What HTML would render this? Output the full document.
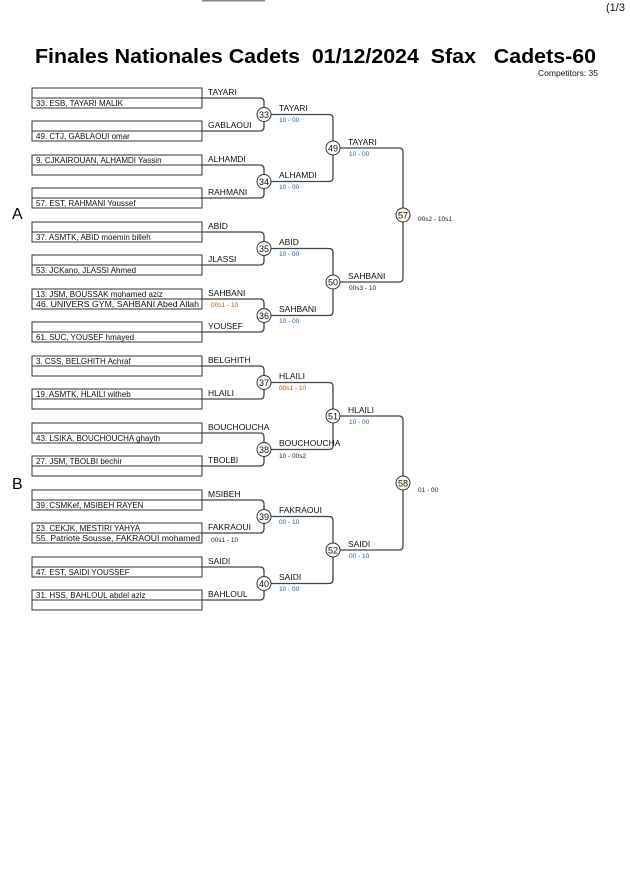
<!DOCTYPE html>
<html><head><meta charset="utf-8"><style>
body{margin:0;background:#fff;}
svg{display:block;font-family:"Liberation Sans",sans-serif;}
.n{font-size:8px;fill:#111;}
.l{font-size:8.5px;fill:#111;}
.s{font-size:6.5px;}
.b{fill:#1f5fa8}.o{fill:#b35a00}.d{fill:#222}
.c{fill:#fff;stroke:#333;stroke-width:1}
.ct{font-size:9px;fill:#111;text-anchor:middle}
</style></head><body>
<svg width="630" height="891" viewBox="0 0 630 891">
<rect x="202" y="0" width="63" height="1.5" fill="#888"/>
<text x="606" y="11" font-size="11" fill="#111">(1/3</text>
<text x="35" y="63" font-size="20" font-weight="bold" fill="#000" xml:space="preserve" textLength="561" lengthAdjust="spacingAndGlyphs">Finales Nationales Cadets &#160;01/12/2024 &#160;Sfax &#160; Cadets-60</text>
<text x="598" y="76" font-size="8.5" text-anchor="end" fill="#111">Competitors: 35</text>
<text x="12" y="219" font-size="16" fill="#000">A</text>
<text x="12" y="489" font-size="16" fill="#000">B</text>

<g fill="none" stroke="#444" stroke-width="1.3">
<g stroke="#333" stroke-width="1">
<rect x="32" y="88" width="170" height="20"/><line x1="32" y1="98" x2="202" y2="98"/>
<rect x="32" y="121" width="170" height="20"/><line x1="32" y1="131" x2="202" y2="131"/>
<rect x="32" y="155" width="170" height="20"/><line x1="32" y1="165" x2="202" y2="165"/>
<rect x="32" y="188" width="170" height="20"/><line x1="32" y1="198" x2="202" y2="198"/>
<rect x="32" y="222" width="170" height="20"/><line x1="32" y1="232" x2="202" y2="232"/>
<rect x="32" y="255" width="170" height="20"/><line x1="32" y1="265" x2="202" y2="265"/>
<rect x="32" y="289" width="170" height="20"/><line x1="32" y1="299" x2="202" y2="299"/>
<rect x="32" y="322" width="170" height="20"/><line x1="32" y1="332" x2="202" y2="332"/>
<rect x="32" y="356" width="170" height="20"/><line x1="32" y1="366" x2="202" y2="366"/>
<rect x="32" y="389" width="170" height="20"/><line x1="32" y1="399" x2="202" y2="399"/>
<rect x="32" y="423" width="170" height="20"/><line x1="32" y1="433" x2="202" y2="433"/>
<rect x="32" y="456" width="170" height="20"/><line x1="32" y1="466" x2="202" y2="466"/>
<rect x="32" y="490" width="170" height="20"/><line x1="32" y1="500" x2="202" y2="500"/>
<rect x="32" y="523" width="170" height="20"/><line x1="32" y1="533" x2="202" y2="533"/>
<rect x="32" y="557" width="170" height="20"/><line x1="32" y1="567" x2="202" y2="567"/>
<rect x="32" y="590" width="170" height="20"/><line x1="32" y1="600" x2="202" y2="600"/>
</g>
<path d="M202 98H260Q264 98 264 102V127Q264 131 260 131H202"/>
<path d="M202 165H260Q264 165 264 169V194Q264 198 260 198H202"/>
<path d="M202 232H260Q264 232 264 236V261Q264 265 260 265H202"/>
<path d="M202 299H260Q264 299 264 303V328Q264 332 260 332H202"/>
<path d="M202 366H260Q264 366 264 370V395Q264 399 260 399H202"/>
<path d="M202 433H260Q264 433 264 437V462Q264 466 260 466H202"/>
<path d="M202 500H260Q264 500 264 504V529Q264 533 260 533H202"/>
<path d="M202 567H260Q264 567 264 571V596Q264 600 260 600H202"/>
<path d="M271 114.5H329Q333 114.5 333 118.5V177.5Q333 181.5 329 181.5H271"/>
<path d="M271 248.5H329Q333 248.5 333 252.5V311.5Q333 315.5 329 315.5H271"/>
<path d="M271 382.5H329Q333 382.5 333 386.5V445.5Q333 449.5 329 449.5H271"/>
<path d="M271 516.5H329Q333 516.5 333 520.5V579.5Q333 583.5 329 583.5H271"/>
<path d="M340 148H399Q403 148 403 152V278Q403 282 399 282H340"/>
<path d="M340 416H399Q403 416 403 420V546Q403 550 399 550H340"/>
</g>

<g class="n">
<text x="36" y="106">33. ESB, TAYARI MALIK</text>
<text x="36" y="139">49. CTJ, GABLAOUI omar</text>
<text x="36" y="163">9. CJKAIROUAN, ALHAMDI Yassin</text>
<text x="36" y="206">57. EST, RAHMANI Youssef</text>
<text x="36" y="240">37. ASMTK, ABID moemin billeh</text>
<text x="36" y="273">53. JCKano, JLASSI Ahmed</text>
<text x="36" y="297">13. JSM, BOUSSAK mohamed aziz</text>
<text x="36" y="307" textLength="163" lengthAdjust="spacingAndGlyphs">46. UNIVERS GYM, SAHBANI Abed Allah</text>
<text x="36" y="340">61. SUC, YOUSEF hmayed</text>
<text x="36" y="364">3. CSS, BELGHITH Achraf</text>
<text x="36" y="397">19. ASMTK, HLAILI witheb</text>
<text x="36" y="441">43. LSIKA, BOUCHOUCHA ghayth</text>
<text x="36" y="464">27. JSM, TBOLBI bechir</text>
<text x="36" y="508">39. CSMKef, MSIBEH RAYEN</text>
<text x="36" y="531">23. CEKJK, MESTIRI YAHYA</text>
<text x="36" y="541" textLength="164" lengthAdjust="spacingAndGlyphs">55. Patriote Sousse, FAKRAOUI mohamed</text>
<text x="36" y="575">47. EST, SAIDI YOUSSEF</text>
<text x="36" y="598">31. HSS, BAHLOUL abdel aziz</text>
</g>
<g class="l">
<text x="208" y="95">TAYARI</text><text x="208" y="128">GABLAOUI</text>
<text x="208" y="162">ALHAMDI</text><text x="208" y="195">RAHMANI</text>
<text x="208" y="229">ABID</text><text x="208" y="262">JLASSI</text>
<text x="208" y="296">SAHBANI</text><text x="208" y="329">YOUSEF</text>
<text x="208" y="363">BELGHITH</text><text x="208" y="396">HLAILI</text>
<text x="208" y="430">BOUCHOUCHA</text><text x="208" y="463">TBOLBI</text>
<text x="208" y="497">MSIBEH</text><text x="208" y="530">FAKRAOUI</text>
<text x="208" y="564">SAIDI</text><text x="208" y="597">BAHLOUL</text>
<text x="279" y="111">TAYARI</text><text x="279" y="178">ALHAMDI</text>
<text x="279" y="245">ABID</text><text x="279" y="312">SAHBANI</text>
<text x="279" y="379">HLAILI</text><text x="279" y="446">BOUCHOUCHA</text>
<text x="279" y="513">FAKRAOUI</text><text x="279" y="580">SAIDI</text>
<text x="348" y="145">TAYARI</text><text x="348" y="279">SAHBANI</text>
<text x="348" y="413">HLAILI</text><text x="348" y="547">SAIDI</text>
</g>
<g class="s">
<text x="211" y="307" class="o">00s1 - 10</text>
<text x="211" y="542" class="d">00s1 - 10</text>
<text x="279" y="122" class="b">10 - 00</text><text x="279" y="189" class="b">10 - 00</text>
<text x="279" y="256" class="b">10 - 00</text><text x="279" y="323" class="b">10 - 00</text>
<text x="279" y="390" class="o">00s1 - 10</text><text x="279" y="458" class="d">10 - 00s2</text>
<text x="279" y="524" class="b">00 - 10</text><text x="279" y="591" class="b">10 - 00</text>
<text x="349" y="156" class="b">10 - 00</text><text x="349" y="290" class="d">00s3 - 10</text>
<text x="349" y="424" class="b">10 - 00</text><text x="349" y="558" class="b">00 - 10</text>
<text x="418" y="221" class="d">00s2 - 10s1</text>
<text x="418" y="492" class="d">01 - 00</text>
</g>
<g>
<circle class="c" cx="264" cy="114.5" r="7"/><text class="ct" x="264" y="118">33</text>
<circle class="c" cx="264" cy="181.5" r="7"/><text class="ct" x="264" y="185">34</text>
<circle class="c" cx="264" cy="248.5" r="7"/><text class="ct" x="264" y="252">35</text>
<circle class="c" cx="264" cy="315.5" r="7"/><text class="ct" x="264" y="319">36</text>
<circle class="c" cx="264" cy="382.5" r="7"/><text class="ct" x="264" y="386">37</text>
<circle class="c" cx="264" cy="449.5" r="7"/><text class="ct" x="264" y="453">38</text>
<circle class="c" cx="264" cy="516.5" r="7"/><text class="ct" x="264" y="520">39</text>
<circle class="c" cx="264" cy="583.5" r="7"/><text class="ct" x="264" y="587">40</text>
<circle class="c" cx="333" cy="148" r="7"/><text class="ct" x="333" y="151.5">49</text>
<circle class="c" cx="333" cy="282" r="7"/><text class="ct" x="333" y="285.5">50</text>
<circle class="c" cx="333" cy="416" r="7"/><text class="ct" x="333" y="419.5">51</text>
<circle class="c" cx="333" cy="550" r="7"/><text class="ct" x="333" y="553.5">52</text>
<circle class="c" cx="403" cy="215" r="7" style="fill:#fffbe8"/><text class="ct" x="403" y="218.5">57</text>
<circle class="c" cx="403" cy="483" r="7" style="fill:#fffbe8"/><text class="ct" x="403" y="486.5">58</text>
</g>
</svg>
</body></html>
